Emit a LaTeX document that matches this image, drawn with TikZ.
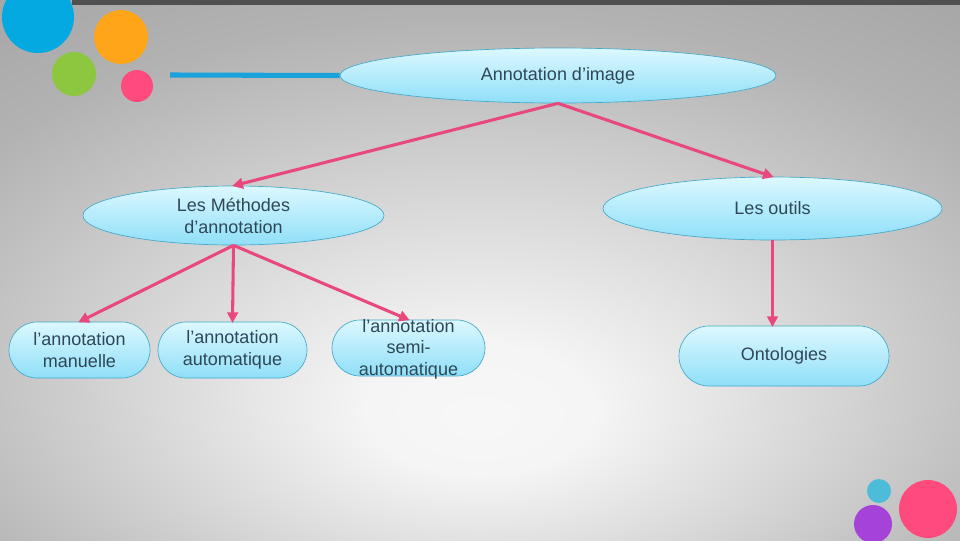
\documentclass[tikz,border=0pt]{standalone}
\usepackage{fontspec}
\setmainfont{Liberation Sans}
\usetikzlibrary{shapes.geometric,shapes.misc,arrows.meta}
\definecolor{bordc}{HTML}{45A9C9}
\definecolor{toptop}{HTML}{DCF8FF}
\definecolor{topbot}{HTML}{8FDFF8}
\definecolor{txtc}{HTML}{2E4756}
\definecolor{arrc}{HTML}{E8487C}
\definecolor{cblue}{HTML}{03A9E0}
\definecolor{corange}{HTML}{FFA51A}
\definecolor{cgreen}{HTML}{8DC63F}
\definecolor{cpink}{HTML}{FF4A7D}
\definecolor{ccyan}{HTML}{4DBCD8}
\definecolor{cpurple}{HTML}{A543D8}
\definecolor{linec}{HTML}{1AA3DA}
\definecolor{barc}{HTML}{505050}
\pgfdeclareradialshading{bgshade}{\pgfpoint{0bp}{-14bp}}{%
  color(0bp)=(white!97!black);
  color(6bp)=(white!96!black);
  color(32bp)=(black!30);
  color(50bp)=(black!40);
  color(80bp)=(black!48)}
\tikzset{
  box/.style={draw=bordc, line width=0.5pt, top color=toptop, bottom color=topbot,
    text=txtc, font=\fontsize{13.5}{16.5}\selectfont, align=center, inner sep=0pt},
  ell/.style={box, ellipse},
  pill/.style={box, rounded rectangle},
  arr/.style={draw=arrc, line width=2.3pt, -{Triangle[length=8pt,width=8pt]}, shorten >=-1pt},
}
\begin{document}
\begin{tikzpicture}[x=0.75pt,y=-0.75pt]
\useasboundingbox (0,0) rectangle (960,540);
\shade[shading=bgshade] (0,0) rectangle (960,540);
\fill[barc] (72,0) rectangle (960,5);
% decorative circles
\fill[cblue] (38,17) circle (36);
\fill[corange] (121,37) circle (27);
\fill[cgreen] (74,74) circle (22);
\fill[cpink] (137,86) circle (16);
\fill[ccyan] (879,491) circle (12);
\fill[cpurple] (873,524) circle (19);
\fill[cpink] (928,509) circle (29);
% nodes
\node[ell, minimum width=327pt, minimum height=41.25pt] (top) at (558,75.5) {Annotation d’image};
\draw[linec, line width=3.8pt] (170,75) -- (top.west);
\node[ell, minimum width=225.75pt, minimum height=44.25pt] (meth) at (233.5,215.5) {Les Méthodes\\d’annotation};
\node[ell, minimum width=254.25pt, minimum height=47.25pt] (outils) at (772.5,208.5) {Les outils};
\node[pill, minimum width=105.75pt, minimum height=42pt] (man) at (79.5,350) {l’annotation\\manuelle};
\node[pill, minimum width=111.75pt, minimum height=42pt] (auto) at (232.5,350) {l’annotation\\automatique};
\node[pill, minimum width=114.75pt, minimum height=42pt] (semi) at (408.5,348) {};
\node[text=txtc, font=\fontsize{13.5}{16.2}\selectfont, align=center, inner sep=0pt] (semitxt) at (408.5,349) {l’annotation\\semi-\\automatique};
\node[pill, minimum width=157.5pt, minimum height=45pt] (onto) at (784,356) {Ontologies};
% connectors
\draw[arr] (top.south) -- (meth.north);
\draw[arr] (top.south) -- (outils.north);
\draw[arr] (meth.south) -- (man.north);
\draw[arr] (meth.south) -- (auto.north);
\draw[arr] (meth.south) -- (semi.north);
\draw[arr] (outils.south) -- (outils.south |- onto.north);
\end{tikzpicture}
\end{document}
